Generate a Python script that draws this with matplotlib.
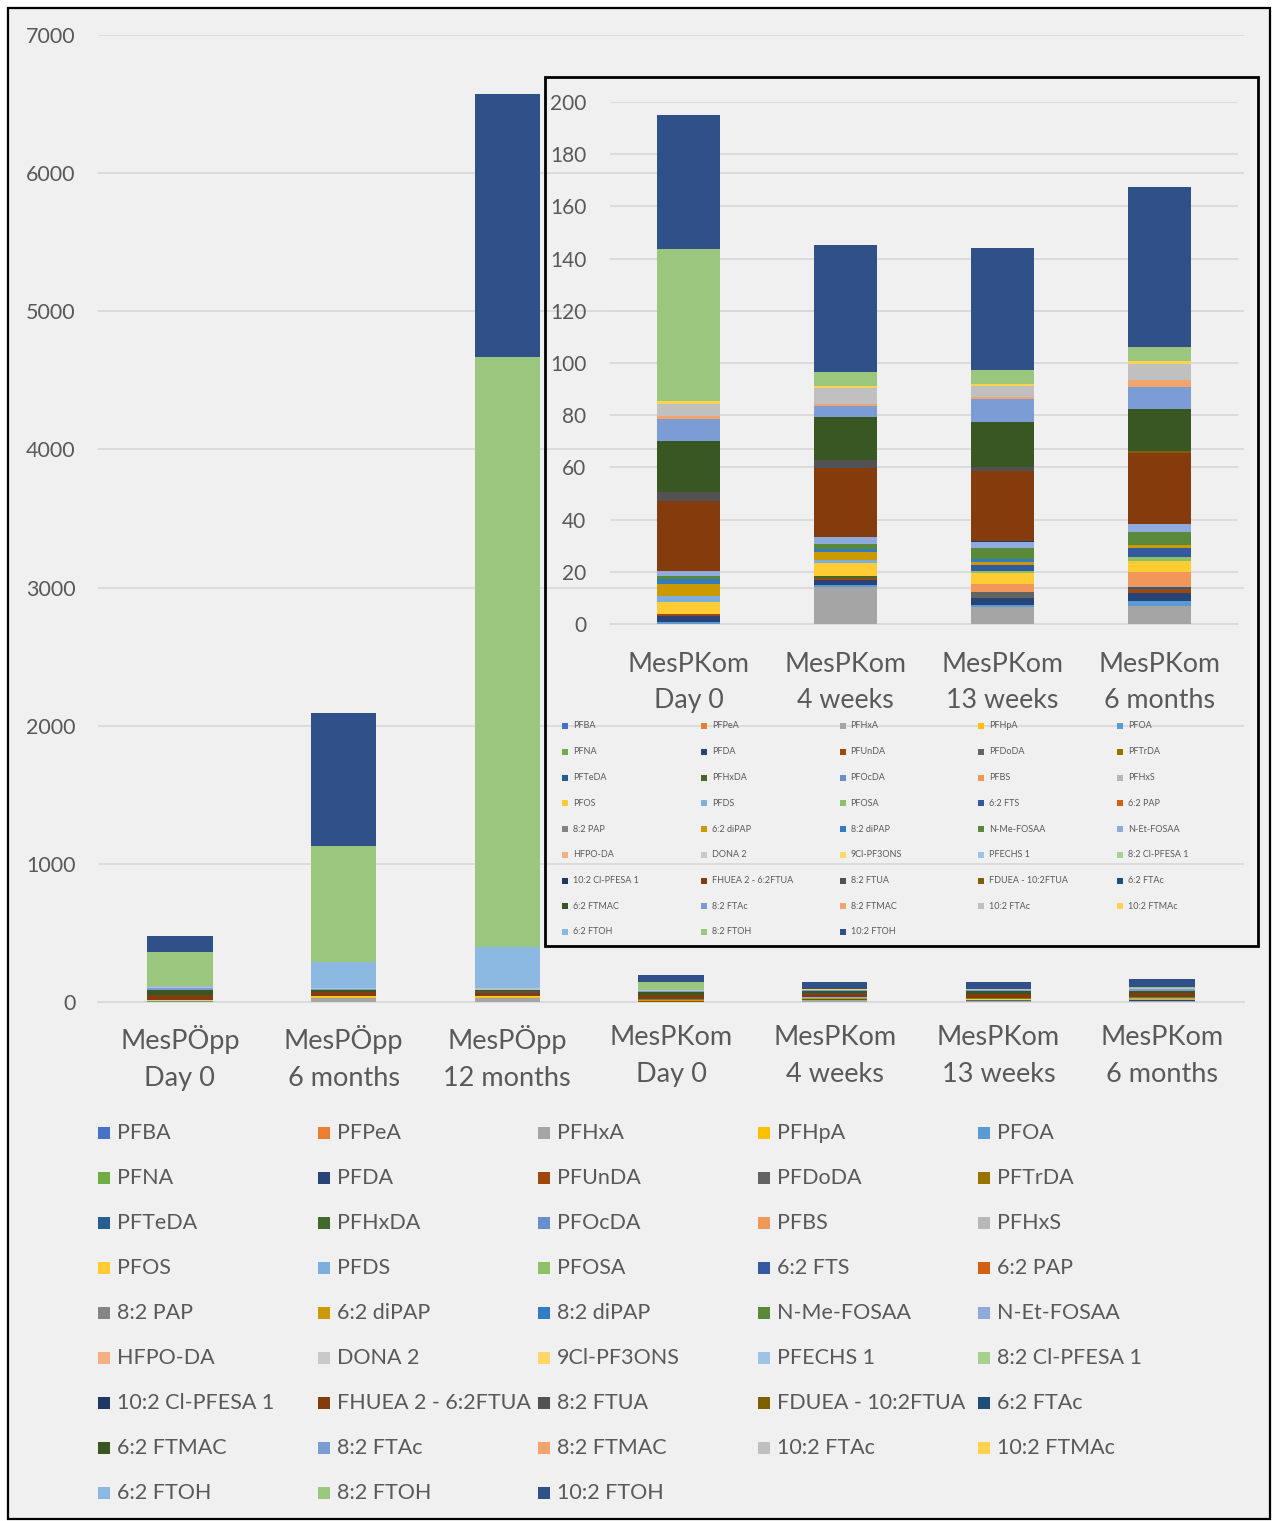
import matplotlib
matplotlib.use("Agg")
import matplotlib.pyplot as plt
from matplotlib.patches import Rectangle
import numpy as np

plt.rcParams["font.family"] = ["Lato", "DejaVu Sans"]

compounds = [
    "PFBA", "PFPeA", "PFHxA", "PFHpA", "PFOA",
    "PFNA", "PFDA", "PFUnDA", "PFDoDA", "PFTrDA",
    "PFTeDA", "PFHxDA", "PFOcDA", "PFBS", "PFHxS",
    "PFOS", "PFDS", "PFOSA", "6:2 FTS", "6:2 PAP",
    "8:2 PAP", "6:2 diPAP", "8:2 diPAP", "N-Me-FOSAA", "N-Et-FOSAA",
    "HFPO-DA", "DONA 2", "9Cl-PF3ONS", "PFECHS 1", "8:2 Cl-PFESA 1",
    "10:2 Cl-PFESA 1", "FHUEA 2 - 6:2FTUA", "8:2 FTUA", "FDUEA - 10:2FTUA", "6:2 FTAc",
    "6:2 FTMAC", "8:2 FTAc", "8:2 FTMAC", "10:2 FTAc", "10:2 FTMAc",
    "6:2 FTOH", "8:2 FTOH", "10:2 FTOH",
]

colors = [
    "#4472C4", "#ED7D31", "#A5A5A5", "#FFC000", "#5B9BD5",
    "#70AD47", "#264478", "#9E480E", "#636363", "#997300",
    "#255E91", "#43682B", "#698ED0", "#F1975A", "#B7B7B7",
    "#FFCD33", "#7CAFDD", "#8CC168", "#335AA1", "#D26012",
    "#848484", "#CC9A00", "#327DC2", "#5A8A39", "#8FAADC",
    "#F4B183", "#C9C9C9", "#FFD966", "#9DC3E6", "#A9D18E",
    "#203864", "#843C0C", "#525252", "#7F6000", "#1F4E79",
    "#385723", "#7C9CD6", "#F2A46F", "#C0C0C0", "#FFD34D",
    "#8CB9E2", "#9BC67E", "#2F5089",
]

categories = [
    "MesPÖpp\nDay 0", "MesPÖpp\n6 months", "MesPÖpp\n12 months",
    "MesPKom\nDay 0", "MesPKom\n4 weeks", "MesPKom\n13 weeks", "MesPKom\n6 months",
]

#             PFBA PFPeA PFHxA PFHpA PFOA PFNA PFDA PFUnDA PFDoDA PFTrDA
#             PFTeDA PFHxDA PFOcDA PFBS PFHxS PFOS PFDS PFOSA 6:2FTS 6:2PAP
#             8:2PAP 6:2diPAP 8:2diPAP NMeFOSAA NEtFOSAA HFPO DONA 9Cl PFECHS 8:2Cl
#             10:2Cl FHUEA 8:2FTUA FDUEA 6:2FTAc 6:2FTMAC 8:2FTAc 8:2FTMAC 10:2FTAc 10:2FTMAc
#             6:2FTOH 8:2FTOH 10:2FTOH
opp_day0 = [0, 0, 0, 0, 5, 0, 5, 0, 0, 0,
            0, 0, 0, 0, 0, 4, 0, 0, 0, 0,
            0, 0, 0, 0, 3, 0, 0, 0, 0, 0,
            0, 33, 3, 0, 0, 36, 12, 0, 4, 0,
            10, 244, 116]
opp_6m = [0, 0, 28, 7, 0, 0, 0, 0, 0, 0,
          0, 0, 0, 0, 0, 10, 0, 0, 0, 0,
          0, 0, 0, 0, 0, 0, 0, 0, 0, 0,
          0, 24, 4, 0, 0, 17, 6, 0, 8, 0,
          188, 838, 963]
opp_12m = [0, 0, 29, 8, 0, 0, 0, 0, 0, 0,
           0, 0, 0, 0, 0, 10, 0, 0, 0, 0,
           0, 0, 0, 0, 0, 0, 0, 0, 0, 0,
           0, 20, 10, 0, 0, 12, 0, 0, 15, 0,
           292, 4275, 1904]
kom_day0 = [0, 0, 0, 0, 0.7, 0, 2.3, 1.0, 0, 0,
            0, 0, 0, 0, 0, 4.3, 2.3, 0, 0, 0,
            0, 4.8, 1.8, 1.3, 1.7, 0, 0, 0, 0, 0,
            0, 27.1, 3.3, 0, 0, 19.4, 8.5, 1.1, 4.8, 1.0,
            0, 58.1, 51.6]
kom_4w = [0, 0, 14.2, 0, 0.6, 0, 1.9, 0.8, 0, 0,
          0, 1.0, 0, 0, 0, 4.9, 1.2, 0, 0, 0,
          0, 3.0, 1.3, 1.9, 2.5, 0, 0, 0, 0, 0,
          0, 26.6, 2.8, 0, 0, 16.6, 4.3, 0.8, 5.9, 1.0,
          0, 5.4, 48.4]
kom_13w = [0, 0, 6.4, 0, 0.9, 0, 2.8, 0, 2.0, 0,
           0, 0, 0, 3.2, 0, 4.1, 0, 1.0, 2.2, 0,
           0, 1.0, 1.2, 4.5, 2.1, 0, 0, 0, 0, 0,
           0.5, 26.8, 1.6, 0, 0, 17.1, 8.9, 0.5, 4.2, 0.9,
           0, 5.5, 46.6]
kom_6m = [0, 0, 7.0, 0, 1.9, 0, 3.1, 1.3, 0, 0,
          0.8, 0, 0, 5.8, 0, 4.3, 0, 1.4, 3.5, 0,
          0, 1.0, 0, 5.1, 3.1, 0, 0, 0, 0, 0,
          0, 27.4, 0, 0.4, 0, 16.1, 8.7, 2.7, 6.1, 0.9,
          0, 5.5, 61.3]

main_yticks = list(range(0, 7001, 1000))
inset_yticks = list(range(0, 201, 20))

TEXT = "#595959"
GRID = "#D9D9D9"
BG = "#F0F0F0"
W, H = 1272, 1521


def fx(px):
    return px / W


def fy(py):
    return 1 - py / H


def stacked(ax, data, labels, yticks, ylab_size, xlab_size, xpad, ypad, lsp):
    data = np.asarray(data, dtype=float)
    x = np.arange(data.shape[0])
    bottom = np.zeros(data.shape[0])
    for i in range(data.shape[1]):
        ax.bar(x, data[:, i], bottom=bottom, width=0.4, color=colors[i],
               linewidth=0, zorder=3)
        bottom += data[:, i]
    ax.set_facecolor("none")
    ax.set_xlim(-0.5, data.shape[0] - 0.5)
    ax.set_ylim(yticks[0], yticks[-1])
    ax.set_yticks(yticks)
    ax.set_xticks(x)
    ax.set_xticklabels(labels, linespacing=lsp)
    ax.grid(axis="y", color=GRID, linewidth=1.3, zorder=0)
    for s in ("left", "right", "top"):
        ax.spines[s].set_visible(False)
    ax.spines["bottom"].set_color(GRID)
    ax.spines["bottom"].set_linewidth(1.3)
    ax.tick_params(axis="both", length=0, colors=TEXT)
    ax.tick_params(axis="y", labelsize=ylab_size, pad=ypad)
    ax.tick_params(axis="x", labelsize=xlab_size, pad=xpad)


fig = plt.figure(figsize=(W / 100, H / 100), dpi=100)
fig.patch.set_facecolor("white")
fig.add_artist(Rectangle((fx(8), fy(1519)), fx(1270) - fx(8), fy(8) - fy(1519),
                         transform=fig.transFigure, facecolor=BG,
                         edgecolor="black", linewidth=1.6, zorder=0))

# main chart: all seven samples
ax = fig.add_axes([fx(98), fy(1002), fx(1244) - fx(98), fy(35) - fy(1002)])
main_data = [opp_day0, opp_6m, opp_12m, kom_day0, kom_4w, kom_13w, kom_6m]
stacked(ax, main_data, categories, main_yticks, 15.5, 19.5, 16.5, 16, 1.62)

# main legend, five columns
for i, name in enumerate(compounds):
    r, c = divmod(i, 5)
    cx = 98 + 220 * c
    cy = 1133 + 45 * r
    fig.add_artist(Rectangle((fx(cx), fy(cy + 6)), fx(12), 12 / H,
                             transform=fig.transFigure, facecolor=colors[i],
                             edgecolor="none", zorder=5))
    fig.text(fx(cx + 19), fy(cy), name, fontsize=15.5, color=TEXT,
             va="center", ha="left")

# inset: MesPKom samples on their own scale
fig.add_artist(Rectangle((fx(545), fy(946)), fx(1258) - fx(545), fy(77) - fy(946),
                         transform=fig.transFigure, facecolor="none",
                         edgecolor="black", linewidth=2, zorder=6))
axi = fig.add_axes([fx(610), fy(624), fx(1238) - fx(610), fy(102) - fy(624)])
inset_data = [kom_day0, kom_4w, kom_13w, kom_6m]
stacked(axi, inset_data, categories[3:], inset_yticks, 15, 19.3, 20, 17, 1.55)

for i, name in enumerate(compounds):
    r, c = divmod(i, 5)
    cx = 562 + 138.8 * c
    cy = 726 + 25.75 * r
    fig.add_artist(Rectangle((fx(cx), fy(cy + 3)), fx(6), 6 / H,
                             transform=fig.transFigure, facecolor=colors[i],
                             edgecolor="none", zorder=7))
    fig.text(fx(cx + 11), fy(cy), name, fontsize=6.5, color=TEXT,
             va="center", ha="left")

fig.savefig("out.png", dpi=100, facecolor=fig.get_facecolor())
